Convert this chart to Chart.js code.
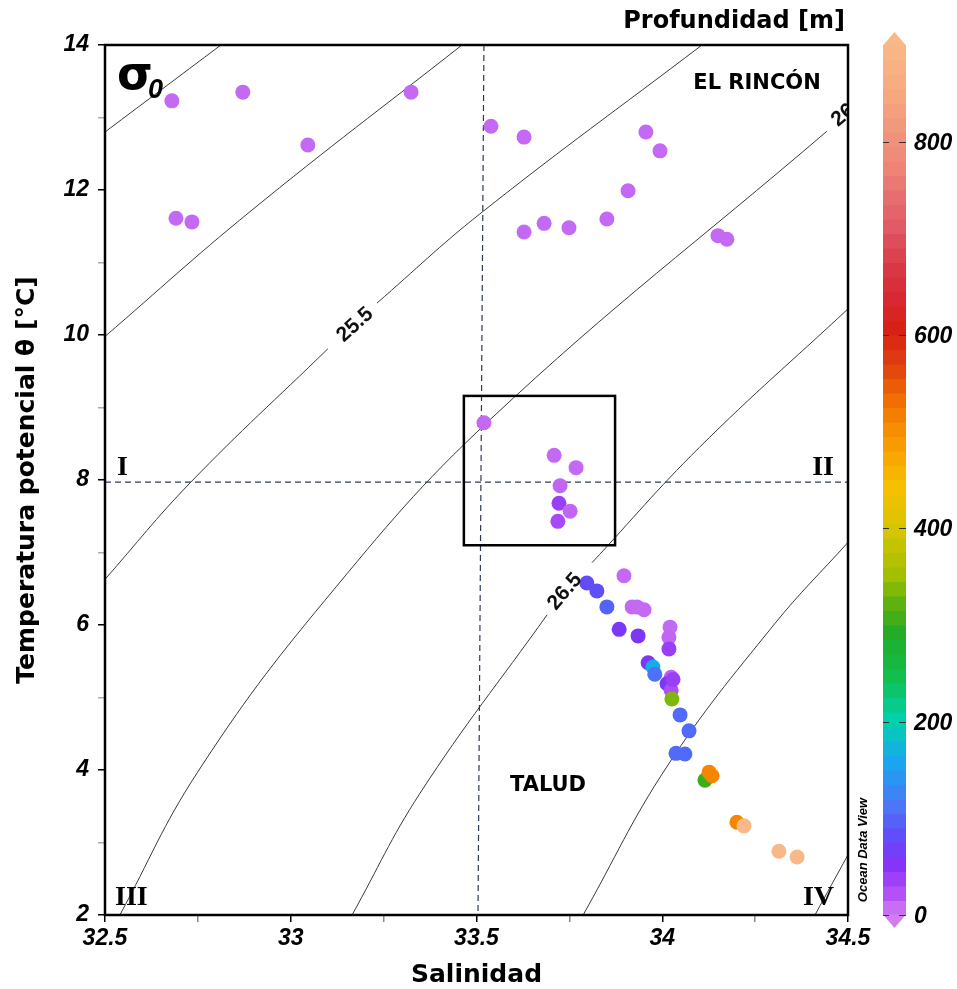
<!DOCTYPE html>
<html>
<head>
<meta charset="utf-8">
<script src="https://cdn.jsdelivr.net/npm/chart.js@4"></script>
<style>
  html, body { margin: 0; padding: 0; background: #fff; }
</style>
</head>
<body>
<canvas id="chart" width="957" height="989"></canvas>
<script>
// station data: salinity, potential temperature, depth (m)
const salinity = [
  32.680, 32.871, 33.046, 33.324, 32.691, 32.734, 33.539, 33.628, 33.956, 33.994,
  33.908, 33.851, 33.628, 33.682, 33.749, 34.150, 34.174,
  33.520, 33.709, 33.768, 33.725, 33.722, 33.752, 33.719,
  33.897, 33.797, 33.824, 33.851, 33.919, 33.932, 33.951, 33.884, 33.935, 34.021,
  34.018, 34.018, 33.962, 33.975, 33.980, 34.024, 34.013, 34.024, 34.029, 34.026,
  34.048, 34.072, 34.037, 34.061, 34.115, 34.126, 34.134, 34.201, 34.220, 34.314, 34.363
];
const temperature = [
  13.23, 13.35, 12.62, 13.35, 11.61, 11.56, 12.88, 12.73, 12.80, 12.54,
  11.99, 11.60, 11.42, 11.54, 11.48, 11.37, 11.32,
  8.79, 8.34, 8.17, 7.92, 7.68, 7.57, 7.43,
  6.68, 6.58, 6.47, 6.25, 6.25, 6.25, 6.21, 5.94, 5.85, 5.97,
  5.83, 5.67, 5.48, 5.42, 5.32, 5.28, 5.19, 5.10, 5.25, 4.98,
  4.76, 4.54, 4.23, 4.22, 3.86, 3.97, 3.92, 3.28, 3.23, 2.88, 2.80
];
const depth = [
  10, 10, 10, 10, 10, 10, 10, 10, 10, 10,
  10, 10, 10, 10, 10, 10, 10,
  10, 10, 10, 12, 40, 12, 30,
  10, 80, 85, 100, 10, 10, 10, 60, 60, 10,
  12, 40, 60, 165, 110, 15, 60, 25, 40, 335,
  105, 105, 105, 105, 305, 510, 510, 510, 900, 900, 900
];

// sigma-0 isopycnals [S, T]; null = gap for a label
const sigma245 = [[32.5, 12.80], [32.812, 14.0]];
const sigma250 = [[32.5, 9.98], [32.890, 11.70], [33.461, 14.0]];
const sigma255 = [[32.5, 6.63], [32.729, 7.96], [33.100, 9.81], null, [33.232, 10.44], [33.509, 11.67], [34.107, 14.0]];
const sigma260 = [[32.540, 2.0], [32.748, 3.96], [33.092, 6.34], [33.536, 8.83], [34.443, 12.81]];
const sigma265 = [[33.165, 2.0], [33.348, 3.68], [33.690, 6.14], null, [33.811, 6.86], [34.10, 8.45], [34.5, 10.36]];
const sigma270 = [[33.787, 2.0], [34.013, 4.05], [34.300, 6.00], [34.5, 7.14]];
const sigma275 = [[34.411, 2.0], [34.5, 2.83]];

// isopycnal labels: text, S, T, angle (deg)
const sigmaLabels = [
  ["25.5", 33.173, 10.14, -42],
  ["26.5", 33.738, 6.46, -49],
  ["26", 34.487, 13.03, -40]
];

// reference lines and the box
const refS = [33.52, 33.504];
const refT = 7.97;
const boxS = [33.466, 33.873];
const boxT = [7.10, 9.16];

// colorbar
const depthMax = 900;
const depthTicks = [0, 200, 400, 600, 800];
const palette = [
  [0, '#d27cf2'], [25, '#b04cf8'], [55, '#8232f8'], [85, '#5e50f8'], [115, '#4a78f8'],
  [160, '#18a8f0'], [200, '#00d2b0'], [245, '#10c050'], [290, '#20ac28'], [320, '#58b010'],
  [350, '#a0c000'], [400, '#d8c400'], [445, '#f8c000'], [500, '#f89000'], [535, '#f06c00'],
  [570, '#e04010'], [605, '#d82014'], [640, '#d82a34'], [675, '#d83c48'], [710, '#e05864'],
  [745, '#e87070'], [780, '#f08878'], [815, '#f0987c'], [850, '#f8a880'], [900, '#f8b888']
];

function hex(c) { return [1, 3, 5].map(i => parseInt(c.substr(i, 2), 16)); }
function depthColor(d) {
  d = Math.max(0, Math.min(depthMax, d));
  for (let i = 1; i < palette.length; i++) {
    if (d <= palette[i][0]) {
      const [d0, c0] = palette[i - 1], [d1, c1] = palette[i];
      const f = (d - d0) / (d1 - d0), a = hex(c0), b = hex(c1);
      return 'rgb(' + a.map((v, k) => Math.round(v + (b[k] - v) * f)).join(',') + ')';
    }
  }
  return palette[palette.length - 1][1];
}

const toXY = arr => arr.map(p => p ? {x: p[0], y: p[1]} : {x: NaN, y: null});
const contour = arr => ({
  type: 'line', data: toXY(arr), borderColor: '#3a3a3a', borderWidth: 1,
  pointRadius: 0, tension: 0.4, spanGaps: false
});
const dashed = pts => ({
  type: 'line', data: pts, borderColor: '#2e3a55', borderWidth: 1.2,
  borderDash: [6, 4], pointRadius: 0
});

const tickFont = {family: "'Liberation Sans', Arial, sans-serif", size: 23, weight: 'bold', style: 'italic'};
const titleFont = {family: "'DejaVu Sans', Verdana, sans-serif", size: 25, weight: 'bold', lineHeight: 1};

const decor = {
  id: 'decor',
  afterDraw(chart) {
    const {ctx, chartArea: a, scales: {x, y}} = chart;
    ctx.save();

    // isopycnal labels
    ctx.save();
    ctx.beginPath();
    ctx.rect(a.left, a.top, a.right - a.left, a.bottom - a.top);
    ctx.clip();
    ctx.fillStyle = '#111';
    ctx.font = "bold 21px 'Liberation Sans', Arial, sans-serif";
    ctx.textAlign = 'center';
    ctx.textBaseline = 'middle';
    sigmaLabels.forEach(([t, s, th, ang]) => {
      ctx.save();
      ctx.translate(x.getPixelForValue(s), y.getPixelForValue(th));
      ctx.rotate(ang * Math.PI / 180);
      ctx.fillText(t, 0, 0);
      ctx.restore();
    });
    ctx.restore();

    // box
    ctx.strokeStyle = '#000';
    ctx.lineWidth = 2.5;
    const bx0 = x.getPixelForValue(boxS[0]), bx1 = x.getPixelForValue(boxS[1]);
    const by0 = y.getPixelForValue(boxT[1]), by1 = y.getPixelForValue(boxT[0]);
    ctx.strokeRect(bx0, by0, bx1 - bx0, by1 - by0);

    // frame
    ctx.lineWidth = 2.5;
    ctx.strokeRect(a.left, a.top, a.right - a.left, a.bottom - a.top);

    // texts in the plot
    ctx.fillStyle = '#000';
    ctx.textBaseline = 'middle';
    ctx.font = "bold 21px 'DejaVu Sans', Verdana, sans-serif";
    ctx.textAlign = 'center';
    ctx.fillText('EL RINCÓN', 757, 84);
    ctx.fillText('TALUD', 548, 786);

    ctx.font = "bold 28px 'Liberation Serif', 'Times New Roman', serif";
    ctx.textAlign = 'left';
    ctx.fillText('I', 117, 468);
    ctx.fillText('III', 115, 898);
    ctx.textAlign = 'right';
    ctx.fillText('II', 834, 468);
    ctx.fillText('IV', 834, 898);

    ctx.textAlign = 'left';
    ctx.font = "bold 46px 'DejaVu Sans', sans-serif";
    ctx.fillText('σ', 117, 77);
    ctx.font = "bold italic 27px 'Liberation Sans', Arial, sans-serif";
    ctx.fillText('0', 148, 91);

    // header
    ctx.font = "bold 24px 'DejaVu Sans', Verdana, sans-serif";
    ctx.textAlign = 'right';
    ctx.fillText('Profundidad [m]', 845, 22);

    // Ocean Data View
    ctx.save();
    ctx.translate(863, 850);
    ctx.rotate(-Math.PI / 2);
    ctx.textAlign = 'center';
    ctx.font = "bold italic 13px 'Liberation Sans', Arial, sans-serif";
    ctx.fillText('Ocean Data View', 0, 0);
    ctx.restore();

    // colorbar
    const cx = a.right + 35, cw = 23;
    const dy = d => a.bottom - d / depthMax * (a.bottom - a.top);
    const band = 15;
    for (let d = 0; d < depthMax; d += band) {
      ctx.fillStyle = depthColor(d + band / 2);
      const y0 = dy(Math.min(d + band, depthMax)), y1 = dy(d);
      ctx.fillRect(cx, y0, cw, y1 - y0 + 0.5);
    }
    ctx.fillStyle = depthColor(depthMax);
    ctx.beginPath();
    ctx.moveTo(cx, a.top + 0.5);
    ctx.lineTo(cx + cw / 2, a.top - 13);
    ctx.lineTo(cx + cw, a.top + 0.5);
    ctx.fill();
    ctx.fillStyle = depthColor(0);
    ctx.beginPath();
    ctx.moveTo(cx, a.bottom - 0.5);
    ctx.lineTo(cx + cw / 2, a.bottom + 13);
    ctx.lineTo(cx + cw, a.bottom - 0.5);
    ctx.fill();

    ctx.strokeStyle = '#333';
    ctx.lineWidth = 1;
    ctx.fillStyle = '#000';
    ctx.font = "bold italic 23px 'Liberation Sans', Arial, sans-serif";
    ctx.textAlign = 'left';
    ctx.textBaseline = 'middle';
    depthTicks.forEach(d => {
      const ty = Math.round(dy(d)) + 0.5;
      ctx.beginPath();
      ctx.moveTo(cx, ty); ctx.lineTo(cx + 6, ty);
      ctx.moveTo(cx + cw - 7, ty); ctx.lineTo(cx + cw, ty);
      ctx.stroke();
      ctx.fillText(String(d), cx + cw + 8, ty + 1);
    });

    ctx.restore();
  }
};

new Chart(document.getElementById('chart').getContext('2d'), {
  type: 'scatter',
  data: {
    datasets: [
      {
        type: 'scatter',
        data: salinity.map((s, i) => ({x: s, y: temperature[i]})),
        pointRadius: 7.5,
        pointBorderWidth: 0,
        pointBackgroundColor: depth.map(depthColor),
        pointBorderColor: depth.map(depthColor)
      },
      dashed([{x: refS[0], y: 14}, {x: refS[1], y: 2}]),
      dashed([{x: 32.5, y: refT}, {x: 34.5, y: refT}]),
      contour(sigma245), contour(sigma250), contour(sigma255), contour(sigma260),
      contour(sigma265), contour(sigma270), contour(sigma275)
    ]
  },
  options: {
    responsive: false,
    animation: false,
    events: [],
    layout: {padding: {top: 45, right: 109, bottom: 0, left: 0}},
    plugins: {legend: {display: false}, tooltip: {enabled: false}},
    scales: {
      x: {
        type: 'linear', min: 32.5, max: 34.5,
        afterFit: s => { s.height = 74; },
        ticks: {
          stepSize: 0.25, autoSkip: false, maxRotation: 0, color: '#000', font: tickFont, padding: 3,
          callback: v => (Math.abs(v * 2 - Math.round(v * 2)) < 1e-6) ? String(Math.round(v * 2) / 2) : ''
        },
        grid: {
          drawOnChartArea: false, tickLength: 7, lineWidth: 1.5,
          color: c => (Math.abs(c.tick.value * 2 - Math.round(c.tick.value * 2)) < 1e-6) ? '#000' : '#888'
        },
        border: {display: false},
        title: {display: true, text: 'Salinidad', color: '#000', font: titleFont, padding: {top: 0, bottom: 1}}
      },
      y: {
        type: 'linear', min: 2, max: 14,
        afterFit: s => { s.width = 105; },
        ticks: {
          stepSize: 1, autoSkip: false, color: '#000', font: tickFont, padding: 9,
          callback: v => (v % 2 === 0) ? String(v) : ''
        },
        grid: {
          drawOnChartArea: false, tickLength: 7, lineWidth: 1.5,
          color: c => (c.tick.value % 2 === 0) ? '#000' : '#aaa'
        },
        border: {display: false},
        title: {display: true, text: 'Temperatura potencial θ [°C]', color: '#000', font: titleFont, padding: {top: 15, bottom: 0}}
      }
    }
  },
  plugins: [decor]
});
</script>
</body>
</html>
